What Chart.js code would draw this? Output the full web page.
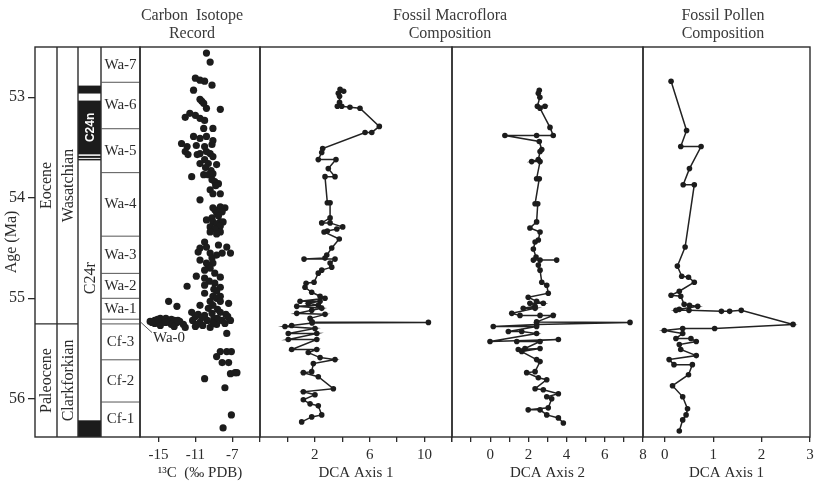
<!DOCTYPE html>
<html>
<head>
<meta charset="utf-8">
<script src="https://cdn.jsdelivr.net/npm/chart.js@4.4.0/dist/chart.umd.min.js"></script>
<style>
  body { margin: 0; background: #fff; }
  #wrap { position: relative; width: 814px; height: 485px; }
  #wrap canvas { position: absolute; left: 0; top: 0; }
</style>
</head>
<body>
<div id="wrap">
  <canvas id="strat" width="814" height="485"></canvas>
  <canvas id="carbon" width="814" height="485"></canvas>
  <canvas id="dca1" width="814" height="485"></canvas>
  <canvas id="dca2" width="814" height="485"></canvas>
  <canvas id="pollen" width="814" height="485"></canvas>
</div>
<script>
// ---- age axis (Ma) ----
const ageMin = 52.5;
const ageMax = 56.38;
const ageTicks = [53, 54, 55, 56];

// ---- stratigraphic column ----
const epochs = ["Eocene", "Paleocene"];
const stages = ["Wasatchian", "Clarkforkian"];
const epochBounds = [[52.5, 55.255], [55.255, 56.38]];
const normalChrons = [[52.884, 52.963], [53.033, 53.568], [53.583, 53.603], [53.613, 53.628], [56.214, 56.38]];
const chronLabels = ["C24n", "C24r"];
const chronLabelAges = [53.30, 54.80];
const biozones = ["Wa-7", "Wa-6", "Wa-5", "Wa-4", "Wa-3", "Wa-2", "Wa-1", "Wa-0", "Cf-3", "Cf-2", "Cf-1"];
const biozoneBounds = [52.5, 52.851, 53.313, 53.75, 54.382, 54.752, 55.0, 55.208, 55.255, 55.612, 56.032, 56.38];

// ---- carbon isotope record: [age, d13C] ----
const carbon = [
  [52.56,-9.8],[52.65,-9.4],[52.81,-11.0],[52.83,-10.5],[52.84,-10.0],[52.88,-9.2],[52.93,-11.2],
  [53.02,-10.5],[53.04,-10.3],[53.06,-10.1],[53.11,-9.8],[53.12,-8.3],[53.16,-11.6],[53.18,-11.0],
  [53.20,-12.1],[53.21,-10.5],[53.23,-10.0],[53.31,-10.1],[53.31,-9.1],[53.39,-11.2],[53.41,-10.5],
  [53.39,-9.8],[53.43,-9.1],[53.46,-12.5],[53.49,-11.9],[53.48,-10.9],[53.49,-10.0],[53.47,-9.2],
  [53.54,-12.1],[53.56,-10.5],[53.56,-9.4],[53.57,-11.8],[53.57,-10.8],[53.54,-9.8],[53.59,-9.1],
  [53.62,-10.0],[53.66,-10.5],[53.66,-9.6],[53.67,-8.7],[53.70,-9.9],[53.73,-9.3],[53.79,-11.4],
  [53.77,-10.1],[53.77,-9.6],[53.76,-9.1],[53.82,-9.2],[53.84,-8.9],[53.86,-8.5],[53.88,-8.8],
  [53.92,-9.4],[53.96,-8.3],[53.96,-9.1],[54.02,-10.5],[54.10,-9.1],[54.09,-8.3],[54.10,-7.8],
  [54.12,-8.9],[54.15,-8.7],[54.14,-8.1],[54.18,-8.5],[54.20,-9.2],[54.22,-9.8],[54.24,-9.1],
  [54.24,-8.3],[54.24,-8.0],[54.26,-8.7],[54.29,-9.4],[54.28,-8.3],[54.31,-8.9],[54.34,-9.4],
  [54.34,-8.3],[54.36,-8.7],[54.44,-10.0],[54.50,-10.5],[54.49,-9.8],[54.47,-8.5],[54.49,-7.6],
  [54.54,-10.7],[54.55,-9.4],[54.57,-8.7],[54.55,-8.1],[54.55,-7.2],[54.60,-9.2],[54.62,-10.5],
  [54.65,-9.8],[54.65,-9.1],[54.68,-9.6],[54.70,-9.4],[54.72,-10.0],[54.78,-10.9],[54.80,-10.0],
  [54.75,-8.9],[54.79,-8.3],[54.83,-9.5],[54.88,-11.9],[54.87,-10.0],[54.85,-8.9],[54.89,-8.3],
  [54.91,-9.0],[54.95,-10.0],[54.98,-9.1],[54.98,-8.3],[54.93,-8.7],[55.00,-8.7],[55.03,-13.9],
  [55.08,-13.0],[55.03,-9.4],[55.03,-8.3],[55.05,-7.4],[55.07,-10.5],[55.07,-9.1],[55.10,-9.6],
  [55.11,-8.6],
  [55.23,-15.9],[55.22,-15.4],[55.20,-14.8],[55.22,-14.5],[55.20,-14.2],[55.23,-13.9],[55.21,-13.6],
  [55.22,-13.3],[55.24,-13.0],[55.23,-12.7],[55.26,-12.3],[55.26,-13.6],[55.25,-14.8],[55.25,-15.4],
  [55.24,-15.7],[55.28,-13.3],[55.29,-12.1],[55.27,-14.8],[55.21,-15.1],[55.24,-14.2],[55.22,-12.9],
  [55.14,-11.4],[55.16,-10.7],[55.17,-10.0],[55.15,-9.2],[55.14,-8.3],[55.16,-7.7],[55.22,-11.3],
  [55.24,-10.5],[55.22,-9.7],[55.20,-9.0],[55.22,-8.1],[55.18,-7.5],[55.28,-11.0],[55.27,-10.2],
  [55.29,-9.4],[55.26,-8.7],[55.25,-7.8],[55.22,-7.2],[55.19,-10.3],[55.20,-8.6],[55.25,-9.1],
  [55.18,-11.0],[55.26,-10.8],
  [55.35,-7.6],[55.53,-8.3],[55.53,-7.6],[55.53,-7.1],[55.58,-8.7],[55.64,-8.1],[55.64,-7.4],
  [55.75,-7.2],[55.74,-6.7],[55.74,-6.5],[55.80,-10.0],[55.89,-7.8],[56.16,-7.1],[56.29,-8.0]
];

// ---- fossil macroflora, DCA axis 1: [age, score] ----
const macroAxis1 = [
  [52.92,3.84],[52.94,4.10],[52.96,3.71],[52.99,3.80],[53.05,3.80],[53.09,3.64],[53.09,3.96],
  [53.10,4.56],[53.11,5.29],[53.29,6.70],[53.35,6.15],[53.35,5.66],[53.51,2.57],[53.55,2.50],
  [53.62,2.25],[53.62,3.54],[53.71,2.98],[53.79,3.47],[53.79,2.74],[54.05,2.91],[54.05,3.11],
  [54.20,3.11],[54.25,2.50],[54.25,3.11],[54.29,4.03],[54.31,3.60],[54.33,2.91],[54.34,2.67],
  [54.41,3.78],[54.50,3.23],[54.57,2.87],[54.60,2.74],[54.61,1.21],[54.61,3.47],[54.65,3.11],
  [54.69,3.23],[54.72,2.50],[54.75,2.25],[54.84,1.94],[54.85,1.36],[54.89,1.28],[54.94,1.77],
  [54.98,2.38],[55.00,2.74],[55.03,0.92],[55.03,2.38],[55.05,1.52],[55.07,2.25],[55.08,0.68],
  [55.10,2.50],[55.12,1.77],[55.15,0.68],[55.16,2.74],[55.20,1.65],[55.235,1.80],[55.24,10.28],
  [55.245,1.80],[55.27,0.31],[55.28,-0.18],[55.30,2.01],[55.35,0.06],[55.35,2.14],[55.41,0.06],
  [55.41,2.14],[55.51,0.31],[55.51,2.14],[55.54,1.52],[55.59,2.38],[55.61,3.47],[55.65,1.89],
  [55.73,1.77],[55.74,1.16],[55.78,2.25],[55.90,3.35],[55.93,1.16],[55.96,2.01],[56.01,1.16],
  [56.05,1.65],[56.07,2.25],[56.16,2.50],[56.18,1.77],[56.23,1.04]
];

// ---- fossil macroflora, DCA axis 2: [age, score] ----
const macroAxis2 = [
  [52.93,2.57],[52.96,2.52],[53.00,2.60],[53.09,2.47],[53.09,2.87],[53.11,2.61],[53.30,3.13],
  [53.38,3.30],[53.38,2.43],[53.38,0.77],[53.44,2.57],[53.52,2.70],[53.54,2.61],[53.62,2.52],
  [53.64,2.17],[53.64,2.61],[53.81,2.43],[53.81,2.57],[54.06,2.35],[54.06,2.49],[54.24,2.43],
  [54.30,2.08],[54.34,2.61],[54.42,2.52],[54.44,2.35],[54.51,2.26],[54.59,2.40],[54.62,2.26],
  [54.62,3.48],[54.62,2.61],[54.67,2.52],[54.72,2.61],[54.84,2.70],[54.87,2.96],[54.95,3.04],
  [54.99,1.99],[55.03,2.43],[55.05,2.78],[55.05,2.08],[55.08,2.35],[55.10,1.73],[55.10,2.35],
  [55.15,1.13],[55.17,1.56],[55.17,2.61],[55.17,3.30],[55.235,2.43],[55.24,7.32],[55.26,2.43],
  [55.28,0.16],[55.28,2.43],[55.33,0.95],[55.33,1.65],[55.35,2.43],[55.43,-0.01],[55.41,3.57],
  [55.43,1.39],[55.43,2.61],[55.50,1.82],[55.51,1.47],[55.50,2.61],[55.53,1.65],[55.61,2.43],
  [55.63,2.61],[55.73,2.35],[55.74,1.91],[55.79,2.52],[55.81,2.96],[55.90,2.35],[55.91,2.78],
  [55.95,3.57],[55.98,2.96],[56.00,3.22],[56.09,3.04],[56.11,1.99],[56.11,2.61],[56.16,2.96],
  [56.19,3.57],[56.24,3.83]
];

// ---- fossil pollen, DCA axis 1: [age, score] ----
const pollenAxis1 = [
  [52.84,0.13],[53.33,0.45],[53.49,0.33],[53.49,0.75],[53.71,0.51],[53.87,0.38],[53.87,0.61],
  [54.49,0.42],[54.68,0.26],[54.78,0.35],[54.79,0.49],[54.84,0.61],[54.93,0.30],[54.97,0.13],
  [54.98,0.33],[55.06,0.40],[55.07,0.51],[55.08,0.68],[55.11,0.30],[55.12,0.23],[55.12,0.50],
  [55.13,1.17],[55.13,1.34],[55.12,1.58],[55.26,2.65],[55.30,1.03],[55.30,0.37],[55.32,-0.01],
  [55.35,0.37],[55.40,0.23],[55.40,0.54],[55.43,0.65],[55.46,0.30],[55.51,0.33],[55.57,0.65],
  [55.61,0.09],[55.66,0.19],[55.66,0.57],[55.76,0.49],[55.87,0.16],[55.98,0.37],[56.10,0.47],
  [56.16,0.44],[56.21,0.37],[56.32,0.30]
];

// ---- x axes ----
const carbonTicks = [-15, -11, -7];
const dca1Ticks = [-2, 0, 2, 4, 6, 8, 10, 12];
const dca1Labels = [2, 6, 10];
const dca2Ticks = [-2, -1, 0, 1, 2, 3, 4, 5, 6, 7, 8];
const dca2Labels = [0, 2, 4, 6, 8];
const pollenTicks = [0, 1, 2, 3];

const W = 814;
const ink = "#2b2b2b";
const serif = '"Liberation Serif", "DejaVu Serif", serif';

const line = (ctx, x1, y1, x2, y2) => {
  ctx.beginPath();
  ctx.moveTo(x1, y1);
  ctx.lineTo(x2, y2);
  ctx.stroke();
};

const vText = (ctx, text, x, y) => {
  ctx.save();
  ctx.translate(x, y);
  ctx.rotate(-Math.PI / 2);
  ctx.fillText(text, 0, 0);
  ctx.restore();
};

const framePlugin = {
  id: "frame",
  afterDraw(chart) {
    const { ctx, chartArea: a } = chart;
    ctx.save();
    ctx.strokeStyle = ink;
    ctx.lineWidth = 1.4;
    ctx.strokeRect(a.left, a.top, a.width, a.height);
    ctx.restore();
  }
};

const headingPlugin = {
  id: "heading",
  afterDraw(chart, args, opts) {
    if (!opts.lines) return;
    const ctx = chart.ctx;
    ctx.save();
    ctx.font = "16px " + serif;
    ctx.fillStyle = "#3a3a3a";
    ctx.textAlign = "center";
    ctx.textBaseline = "middle";
    opts.lines.forEach((t, i) => ctx.fillText(t, opts.x, 16 + i * 18));
    ctx.restore();
  }
};

const stratPlugin = {
  id: "strat",
  afterDraw(chart) {
    const { ctx, chartArea: a, scales: { y } } = chart;
    const cx = [a.left, a.left + 22, a.left + 43, a.left + 66, a.right];
    const py = v => y.getPixelForValue(v);
    ctx.save();
    ctx.fillStyle = "#1c1c1c";
    normalChrons.forEach(([t, b]) => ctx.fillRect(cx[2], py(t), cx[3] - cx[2], py(b) - py(t)));

    ctx.strokeStyle = ink;
    ctx.lineWidth = 1.4;
    ctx.strokeRect(a.left, a.top, a.width, a.height);
    [1, 2, 3].forEach(i => line(ctx, cx[i], a.top, cx[i], a.bottom));
    epochBounds.slice(1).forEach(([t]) => line(ctx, cx[0], py(t), cx[2], py(t)));
    ctx.lineWidth = 1;
    ctx.strokeStyle = "#555";
    biozoneBounds.slice(1, -1).forEach(v => line(ctx, cx[3], py(v), cx[4], py(v)));

    ctx.fillStyle = ink;
    ctx.textAlign = "center";
    ctx.textBaseline = "middle";
    ctx.font = "16px " + serif;
    epochs.forEach((n, i) => vText(ctx, n, (cx[0] + cx[1]) / 2 + 1, py((epochBounds[i][0] + epochBounds[i][1]) / 2)));
    stages.forEach((n, i) => vText(ctx, n, (cx[1] + cx[2]) / 2 + 1, py((epochBounds[i][0] + epochBounds[i][1]) / 2)));

    ctx.fillStyle = "#fff";
    ctx.font = 'bold 12px "Liberation Sans", Arial, sans-serif';
    vText(ctx, chronLabels[0], (cx[2] + cx[3]) / 2 + 1, py(chronLabelAges[0]));
    ctx.fillStyle = ink;
    ctx.font = "16px " + serif;
    vText(ctx, chronLabels[1], (cx[2] + cx[3]) / 2 + 1, py(chronLabelAges[1]));

    ctx.font = "15px " + serif;
    biozones.forEach((n, i) => {
      const mid = (biozoneBounds[i] + biozoneBounds[i + 1]) / 2;
      if (n === "Wa-0") {
        ctx.strokeStyle = "#555";
        line(ctx, cx[4], py(mid), cx[4] + 12, py(mid) + 11);
        ctx.textAlign = "left";
        ctx.fillText(n, cx[4] + 13, py(mid) + 17);
        ctx.textAlign = "center";
      } else {
        ctx.fillText(n, (cx[3] + cx[4]) / 2, py(mid));
      }
    });
    ctx.restore();
  }
};

const baseOptions = padding => ({
  responsive: false,
  animation: false,
  layout: { padding },
  plugins: { legend: { display: false }, tooltip: { enabled: false } }
});

new Chart(document.getElementById("strat"), {
  type: "scatter",
  data: { datasets: [] },
  options: {
    ...baseOptions({ left: 0, right: W - 140, top: 47, bottom: 48 }),
    scales: {
      x: { display: false, min: 0, max: 1 },
      y: {
        min: ageMin,
        max: ageMax,
        reverse: true,
        position: "left",
        afterBuildTicks: s => { s.ticks = ageTicks.map(v => ({ value: v })); },
        afterFit: s => { s.width = 35; s.paddingTop = 0; s.paddingBottom = 0; },
        grid: { drawOnChartArea: false, tickLength: 7, color: ink, lineWidth: 1.3 },
        border: { display: false },
        ticks: { padding: 3, color: ink, font: { family: serif, size: 16 } },
        title: { display: true, text: "Age (Ma)", color: ink, font: { family: serif, size: 16 }, padding: { top: 2, bottom: 0 } }
      }
    }
  },
  plugins: [stratPlugin]
});

function makePanel(id, left, right, axis, dataset, heading) {
  return new Chart(document.getElementById(id), {
    type: "scatter",
    data: { datasets: [dataset] },
    options: {
      ...baseOptions({ left, right: W - right, top: 47, bottom: 0 }),
      plugins: { legend: { display: false }, tooltip: { enabled: false }, heading },
      scales: {
        x: {
          type: "linear",
          position: "bottom",
          min: axis.min,
          max: axis.max,
          afterBuildTicks: s => { s.ticks = axis.ticks.map(v => ({ value: v })); },
          afterFit: s => { s.height = 48; s.paddingLeft = 0; s.paddingRight = 0; },
          grid: { drawOnChartArea: false, tickLength: 5, color: ink, lineWidth: 1.3 },
          border: { display: false },
          ticks: {
            padding: 4,
            autoSkip: false,
            maxRotation: 0,
            color: ink,
            font: { family: serif, size: 15 },
            callback: v => (axis.labels.includes(v) ? String(v) : "")
          },
          title: { display: true, text: axis.title, color: ink, font: { family: serif, size: 15 }, padding: { top: 0, bottom: 3 } }
        },
        y: { display: false, min: ageMin, max: ageMax, reverse: true }
      }
    },
    plugins: [framePlugin, headingPlugin]
  });
}

const pts = rows => rows.map(([age, v]) => ({ x: v, y: age }));
const lineSet = rows => ({
  data: pts(rows),
  showLine: true,
  borderColor: "#222",
  borderWidth: 1.5,
  pointRadius: 2.8,
  pointBackgroundColor: "#1c1c1c",
  pointBorderWidth: 0
});

makePanel("carbon", 140, 260,
  { min: -17, max: -4, ticks: carbonTicks, labels: carbonTicks, title: "\u00b9\u00b3C  (\u2030 PDB)" },
  { data: pts(carbon), pointRadius: 3.6, pointBackgroundColor: "#1c1c1c", pointBorderWidth: 0 },
  { lines: ["Carbon  Isotope", "Record"], x: 192 });

makePanel("dca1", 260, 452,
  { min: -2, max: 12, ticks: dca1Ticks, labels: dca1Labels, title: "DCA Axis 1" },
  lineSet(macroAxis1),
  { lines: ["Fossil Macroflora", "Composition"], x: 450 });

makePanel("dca2", 452, 643,
  { min: -2, max: 8, ticks: dca2Ticks, labels: dca2Labels, title: "DCA Axis 2" },
  lineSet(macroAxis2),
  {});

makePanel("pollen", 643, 810,
  { min: -0.45, max: 3, ticks: pollenTicks, labels: pollenTicks, title: "DCA Axis 1" },
  lineSet(pollenAxis1),
  { lines: ["Fossil Pollen", "Composition"], x: 723 });
</script>
</body>
</html>
